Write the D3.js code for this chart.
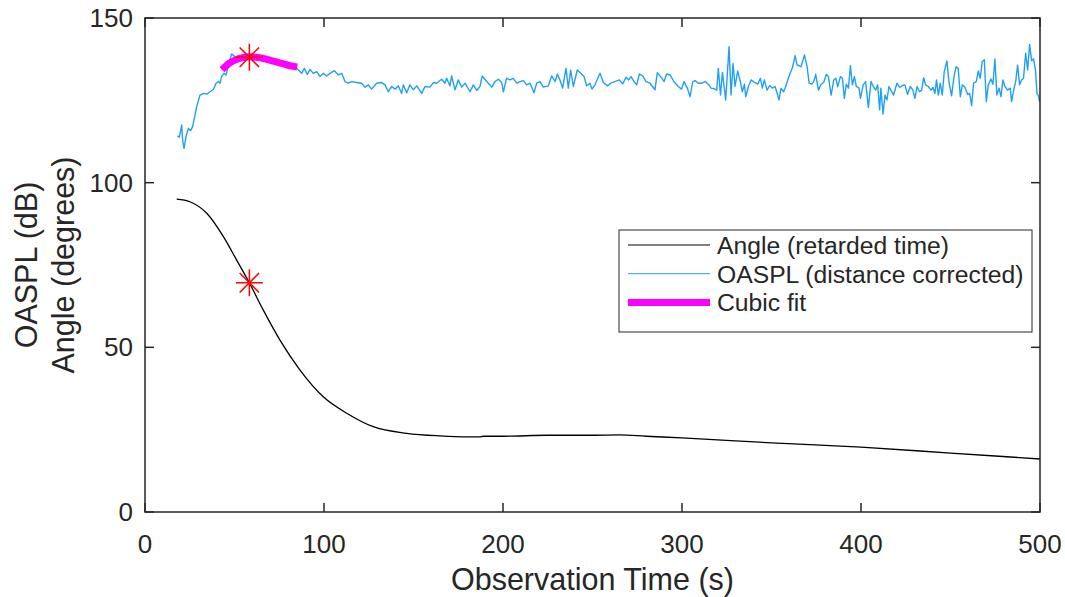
<!DOCTYPE html>
<html>
<head>
<meta charset="utf-8">
<script src="https://cdn.jsdelivr.net/npm/d3@7"></script>
<style>
  body { margin: 0; background: #fff; }
  svg { display: block; }
  text { font-family: "Liberation Sans", Arial, Helvetica, sans-serif; fill: #262626; }
</style>
</head>
<body>
<svg id="chart" width="1065" height="597"></svg>
<script>
"use strict";

// x ticks / y ticks
let xTicks = [0, 100, 200, 300, 400, 500]
let yTicks = [0, 50, 100, 150]

// angle (retarded time), degrees
let angleTime = [17.7, 25.1, 34.5, 43.8, 51.2, 58.3, 66.1, 75.4, 86.6, 99.6, 112.7, 127.5, 146.2, 164.8, 180, 187, 189, 200, 225, 250, 265, 280, 300, 350, 400, 450, 500]
let angleDeg  = [95.0, 94.2, 90.7, 83.6, 76.5, 69.6, 61.3, 52.2, 43.1, 35.0, 30.0, 25.9, 23.9, 23.1, 22.8, 22.8, 23.0, 23.0, 23.3, 23.3, 23.4, 23.0, 22.5, 21.0, 19.7, 17.9, 16.1]

// OASPL (distance corrected), dB
let oasplTime = [
  18.1, 19.2, 20.5, 21.0, 21.8, 22.9, 24.2, 25.5, 26.6, 28.9, 30.7, 32.6, 34.5, 36.3, 38.2, 39.7, 41.0, 41.9, 42.8, 44.1,
  45.3, 46.6, 48.4, 49.7, 52.1, 55.0, 57.7, 60.5, 63.0, 66.0, 70.0, 74.0, 78.0, 82.0, 84.5, 85.7, 87.5, 89.0, 90.7, 92.2,
  94.0, 95.9, 97.8, 99.6, 101.5, 103.4, 105.8, 108.0, 109.9,
  111.7, 113.6, 115.5, 118.2, 121.0, 122.9, 124.8, 126.6, 129.4, 132.2, 134.1, 135.9, 137.8, 139.7, 141.5, 143.4, 144.3,
  146.2, 148.0, 149.9, 151.8, 154.6, 156.4, 159.2, 161.1, 163.0, 165.7, 167.6, 168.5, 170.4, 171.3, 173.2, 175.0, 176.9,
  178.8, 181.6, 183.4, 185.3, 187.1, 188.4, 189.9, 191.8, 193.7, 195.5, 197.4, 199.3, 200.2, 202.0, 203.9, 205.8, 207.6,
  209.5, 211.4, 213.2, 215.1, 217.3, 218.8, 220.7, 222.5, 225.3, 227.2, 229.1, 230.4, 231.8, 233.3, 235.2, 236.5, 237.8,
  239.3, 241.5, 243.4, 245.3, 246.7, 248.6, 249.7, 251.4, 252.7, 254.2, 256.1, 258.3, 260.2, 262.6, 265.0, 266.9, 268.7,
  270.2, 271.5, 273.2, 274.7, 276.2, 278.0, 279.9, 282.1, 284.9, 286.2, 288.1, 290.0, 291.4, 293.3, 295.5, 297.9, 299.8,
  301.1, 303.0, 304.5, 306.0, 307.3, 309.1,
  311.0, 312.9, 314.7, 316.2, 318.1, 319.4, 320.3, 321.5, 322.6, 324.4, 326.3, 327.4, 328.5, 329.6, 331.1, 332.6, 333.7,
  334.9, 335.6, 337.1, 338.6, 340.4, 342.3, 343.8, 344.9, 346.0, 347.5, 349.0, 350.5, 352.0, 352.9, 354.2, 355.3, 356.8,
  357.9, 359.1, 360.4, 361.7, 363.2, 364.3, 365.4, 366.5, 368.4, 369.9, 371.0, 372.5, 373.6, 374.7, 376.2, 377.7, 379.2,
  380.7, 381.8, 383.3, 384.8, 385.9, 387.0, 388.5, 389.6, 390.7, 391.8, 393.0, 394.1, 395.2, 396.3, 397.4, 398.9, 399.7,
  401.2, 402.6,
  404.1, 405.6, 406.9, 408.2, 409.3, 410.4, 411.1, 412.3, 413.4, 414.5, 415.6, 416.7, 418.2, 420.1, 421.6, 423.1, 424.5,
  426.0, 427.5, 429.0, 430.1, 431.3, 432.7, 433.9, 435.0, 436.1, 437.6, 439.1, 440.2, 441.3, 442.2, 443.2, 444.3, 445.4,
  446.5, 448.0, 449.1, 450.6, 452.1, 453.2, 454.3, 455.5, 456.6, 458.1, 459.6, 460.7, 461.8, 462.9, 464.4, 465.5, 466.6,
  467.7, 468.9, 470.0, 471.1, 472.6, 473.7, 474.8, 475.9, 477.1, 478.2, 479.3, 480.4, 481.9, 483.4, 484.1, 485.3, 486.4,
  487.5, 488.6, 489.7, 490.8, 492.0, 493.1, 494.2, 495.3, 496.4, 497.5, 498.3, 499.0, 499.8
]
let oasplDb = [
  114.2, 113.8, 117.5, 113.0, 110.4, 114.0, 116.5, 115.8, 117.0, 123.1, 126.6, 127.1, 126.9, 127.6, 128.3, 130.2, 130.7, 130.2, 132.2, 133.2,
  132.7, 135.7, 139.1, 138.5, 137.8, 137.3, 137.8, 138.3, 137.8, 137.5, 136.8, 136.2, 135.5, 135.0, 134.8, 134.2, 133.2, 134.7, 132.9, 134.4,
  133.2, 133.7, 132.2, 133.2, 132.4, 133.2, 134.0, 132.7, 133.2,
  130.7, 130.2, 130.7, 130.4, 130.2, 129.0, 129.7, 128.4, 130.2, 130.4, 129.7, 127.6, 129.2, 128.4, 129.4, 127.1, 129.7,
  127.3, 129.7, 128.2, 129.4, 127.1, 129.2, 129.0, 130.4, 130.2, 131.4, 130.2, 131.7, 129.4, 132.4, 128.2, 131.2, 129.0,
  130.2, 127.6, 129.7, 128.0, 129.2, 132.4, 131.4, 130.2, 129.0, 130.7, 131.4, 130.4, 127.6, 131.7, 131.2, 131.7, 130.2,
  130.7, 131.0, 129.7, 130.2, 127.3, 130.2, 130.7, 129.0, 129.4, 132.4, 130.7, 133.0, 131.2, 128.7, 134.7, 128.7, 134.2,
  129.2, 134.2, 133.2, 132.2, 129.4, 130.2, 128.4, 129.7, 131.4, 133.2, 130.4, 129.4, 130.2, 130.7, 131.2, 130.0, 132.0,
  131.2, 132.2, 130.7, 129.7, 133.0, 132.4, 130.7, 130.2, 128.2, 133.4, 132.2, 130.7, 133.0, 132.7, 130.7, 129.2, 128.4,
  130.7, 128.7, 126.1, 130.7, 131.0, 130.2,
  130.2, 130.7, 129.9, 128.7, 128.5, 128.1, 134.7, 126.6, 133.5, 125.1, 141.3, 126.6, 136.2, 129.2, 133.9, 130.7, 127.6,
  129.9, 126.1, 129.2, 131.2, 130.5, 129.9, 131.7, 128.7, 131.2, 128.1, 129.5, 128.7, 129.2, 127.6, 125.1, 128.7, 127.6,
  129.2, 131.2, 133.2, 134.9, 138.6, 135.7, 135.5, 135.2, 138.8, 135.2, 130.2, 129.9, 130.7, 132.9, 128.1, 129.9, 130.5,
  132.9, 132.2, 126.6, 131.2, 131.7, 129.2, 132.2, 131.7, 125.6, 129.9, 128.7, 135.5, 129.7, 132.2, 129.2, 128.7, 125.6,
  129.7, 130.7,
  122.8, 130.7, 129.2, 128.1, 129.7, 122.1, 128.7, 120.8, 126.6, 125.1, 129.2, 128.1, 126.6, 130.2, 128.9, 129.5, 129.7,
  126.8, 129.2, 128.1, 125.6, 129.2, 127.6, 128.1, 131.9, 129.7, 129.2, 128.1, 128.9, 127.1, 131.2, 126.6, 130.2, 126.6,
  133.7, 137.0, 130.7, 126.4, 132.7, 135.2, 134.7, 126.1, 129.7, 128.9, 126.8, 127.1, 123.4, 130.2, 130.7, 133.9, 131.7,
  136.7, 137.3, 124.6, 129.7, 131.5, 129.9, 137.6, 126.6, 128.7, 126.1, 131.2, 129.2, 128.1, 128.7, 124.6, 128.1, 130.7,
  135.7, 129.7, 131.2, 131.7, 139.3, 134.2, 142.0, 137.0, 137.6, 134.2, 127.1, 126.6, 124.6
]

// cubic fit over the peak
let fitTime = [43, 47, 51, 55, 59, 63, 67, 71, 75, 79, 83, 85]
let fitDb   = [134.3, 136.2, 137.4, 138.0, 138.2, 138.0, 137.6, 137.0, 136.4, 135.8, 135.3, 135.1]

// peak markers
let peakTime = [58.3, 58.3]
let peakVal  = [138.1, 69.6]

let legendLabels = ["Angle (retarded time)", "OASPL (distance corrected)", "Cubic fit"]

const W = 1065, H = 597
const plot = {left: 145, right: 1040, top: 18, bottom: 512}
const axisColor = "#262626"
const tickLen = 9

let svg = d3.select("#chart")

let x = d3.scaleLinear().domain([0, 500]).range([plot.left, plot.right])
let y = d3.scaleLinear().domain([0, 150]).range([plot.bottom, plot.top])

svg.append("defs").append("clipPath").attr("id", "plotclip")
  .append("rect")
    .attr("x", plot.left).attr("y", plot.top)
    .attr("width", plot.right - plot.left).attr("height", plot.bottom - plot.top)

let lines = svg.append("g").attr("clip-path", "url(#plotclip)")

let lineGen = d3.line()
    .x(d => x(d[0]))
    .y(d => y(d[1]))

// angle
lines.append("path")
    .datum(d3.zip(angleTime, angleDeg))
    .attr("fill", "none")
    .attr("stroke", "#000")
    .attr("stroke-width", 1.3)
    .attr("d", lineGen.curve(d3.curveMonotoneX))

// oaspl
lines.append("path")
    .datum(d3.zip(oasplTime, oasplDb))
    .attr("fill", "none")
    .attr("stroke", "#21a0f2")
    .attr("stroke-width", 1.4)
    .attr("stroke-linejoin", "round")
    .attr("d", lineGen.curve(d3.curveLinear))

// cubic fit
lines.append("path")
    .datum(d3.zip(fitTime, fitDb))
    .attr("fill", "none")
    .attr("stroke", "#ff00ff")
    .attr("stroke-width", 7)
    .attr("d", lineGen.curve(d3.curveMonotoneX))

// asterisk markers
function asterisk(g, r){
  let d = r * 0.72
  g.append("line").attr("x1", -r).attr("x2", r).attr("y1", 0).attr("y2", 0)
  g.append("line").attr("x1", 0).attr("x2", 0).attr("y1", -r).attr("y2", r)
  g.append("line").attr("x1", -d).attr("x2", d).attr("y1", -d).attr("y2", d)
  g.append("line").attr("x1", -d).attr("x2", d).attr("y1", d).attr("y2", -d)
}
d3.zip(peakTime, peakVal).forEach(p => {
  let g = svg.append("g")
      .attr("transform", "translate(" + x(p[0]) + "," + y(p[1]) + ")")
      .attr("stroke", "#ff0000")
      .attr("stroke-width", 1.5)
  asterisk(g, 13.5)
})

// axes box + inward ticks (MATLAB style)
let axes = svg.append("g").attr("stroke", axisColor).attr("stroke-width", 1.5)
axes.append("rect")
    .attr("x", plot.left).attr("y", plot.top)
    .attr("width", plot.right - plot.left).attr("height", plot.bottom - plot.top)
    .attr("fill", "none")
xTicks.forEach(t => {
  axes.append("line").attr("x1", x(t)).attr("x2", x(t)).attr("y1", plot.bottom).attr("y2", plot.bottom - tickLen)
  axes.append("line").attr("x1", x(t)).attr("x2", x(t)).attr("y1", plot.top).attr("y2", plot.top + tickLen)
})
yTicks.forEach(t => {
  axes.append("line").attr("x1", plot.left).attr("x2", plot.left + tickLen).attr("y1", y(t)).attr("y2", y(t))
  axes.append("line").attr("x1", plot.right).attr("x2", plot.right - tickLen).attr("y1", y(t)).attr("y2", y(t))
})

// tick labels
svg.append("g").selectAll("text").data(xTicks).join("text")
    .attr("x", d => x(d)).attr("y", plot.bottom + 41)
    .attr("text-anchor", "middle")
    .style("font-size", "26px")
    .text(d => d)
svg.append("g").selectAll("text").data(yTicks).join("text")
    .attr("x", plot.left - 12).attr("y", d => y(d) + 9)
    .attr("text-anchor", "end")
    .style("font-size", "26px")
    .text(d => d)

// axis labels
svg.append("text")
    .attr("x", (plot.left + plot.right) / 2).attr("y", 590)
    .attr("text-anchor", "middle")
    .style("font-size", "30.5px")
    .text("Observation Time (s)")
let cy = (plot.top + plot.bottom) / 2
svg.append("text")
    .attr("transform", "translate(37," + cy + ") rotate(-90)")
    .attr("text-anchor", "middle")
    .style("font-size", "30.5px")
    .text("OASPL (dB)")
svg.append("text")
    .attr("transform", "translate(74," + cy + ") rotate(-90)")
    .attr("text-anchor", "middle")
    .style("font-size", "30.5px")
    .text("Angle (degrees)")

// legend
let lg = svg.append("g").attr("transform", "translate(619,230)")
lg.append("rect")
    .attr("width", 413).attr("height", 102)
    .attr("fill", "#fff")
    .attr("stroke", axisColor)
    .attr("stroke-width", 1)
let legendStyles = [
  {color: "#000", width: 1},
  {color: "#21a0f2", width: 1},
  {color: "#ff00ff", width: 7}
]
legendLabels.forEach((lab, i) => {
  let ly = 15 + i * 28.7
  lg.append("line")
      .attr("x1", 9).attr("x2", 91).attr("y1", ly).attr("y2", ly)
      .attr("stroke", legendStyles[i].color)
      .attr("stroke-width", legendStyles[i].width)
  lg.append("text")
      .attr("x", 98).attr("y", ly + 9)
      .style("font-size", "24.7px")
      .text(lab)
})
</script>
</body>
</html>
